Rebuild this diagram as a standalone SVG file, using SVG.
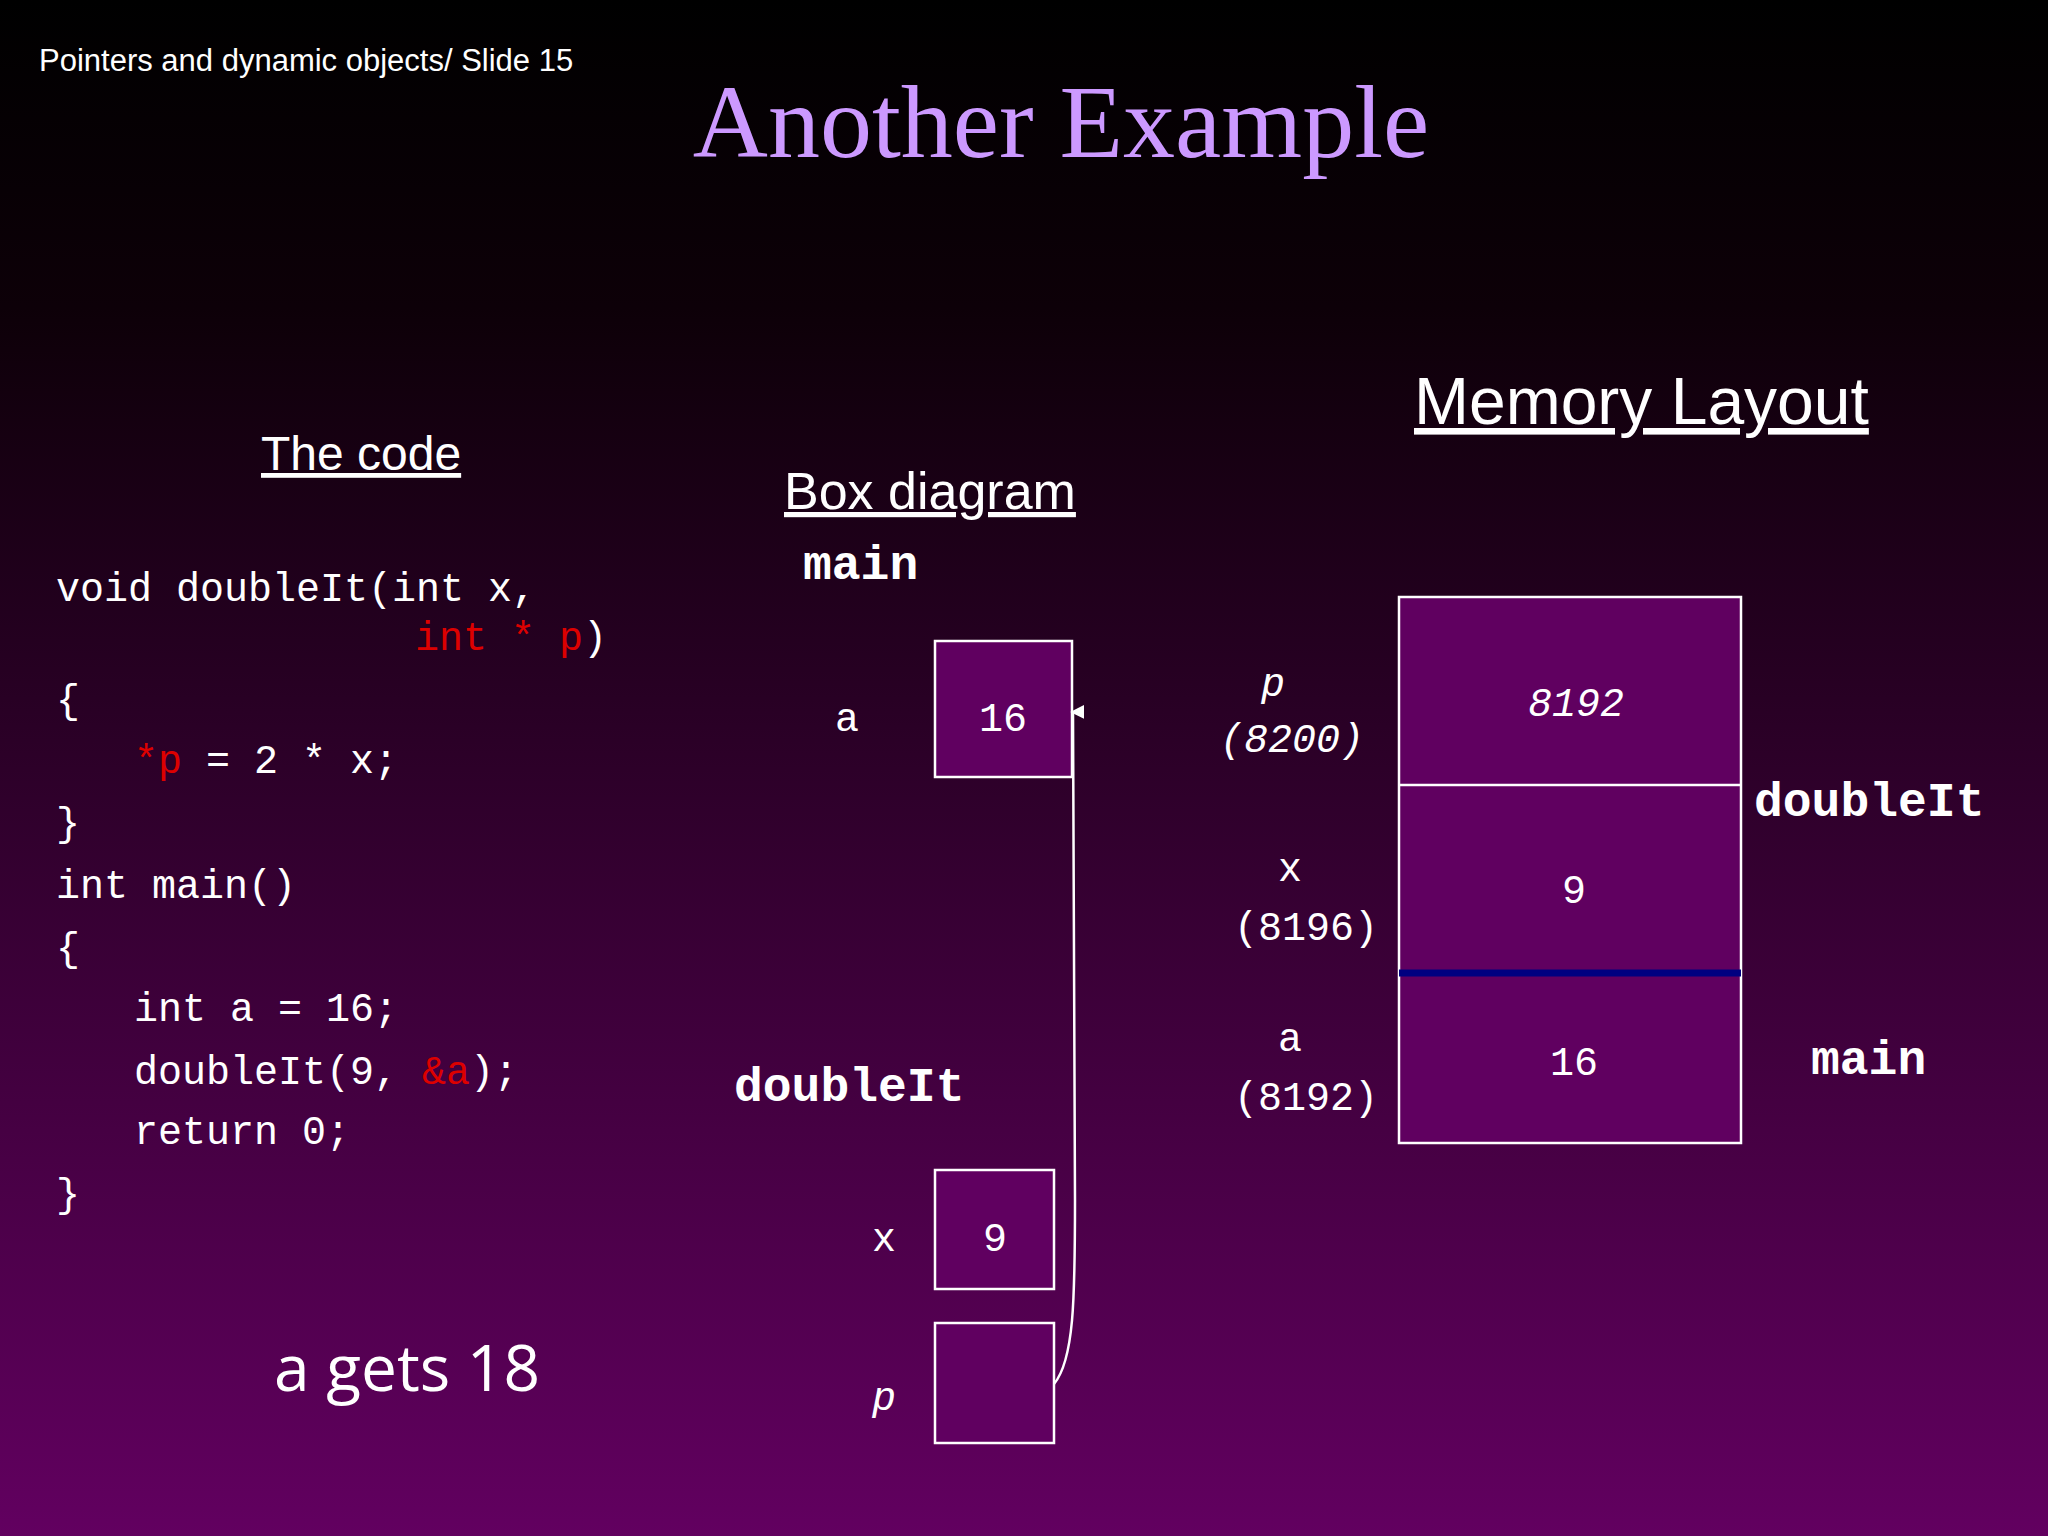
<svg xmlns="http://www.w3.org/2000/svg" width="2048" height="1536" viewBox="0 0 2048 1536">
<defs>
<linearGradient id="bg" x1="0" y1="0" x2="0" y2="1">
<stop offset="0" stop-color="#000000"/><stop offset="0.2" stop-color="#0d0008"/><stop offset="1" stop-color="#620060"/>
</linearGradient>
<marker id="ah" viewBox="0 0 10 10" refX="5" refY="2" markerWidth="14" markerHeight="14" markerUnits="userSpaceOnUse" orient="auto-start-reverse"><path d="M0,10 L5,0 L10,10 z" fill="#fff"/></marker>
<style>
.m{font-family:"Liberation Mono",monospace;fill:#fff;font-size:40px}
.b{font-family:"Liberation Mono",monospace;fill:#fff;font-size:48px;font-weight:bold}
.r{fill:#dd0000}
.s{font-family:"Liberation Sans",Arial,sans-serif;fill:#fff}
.box{fill:#600060;stroke:#fff;stroke-width:2.5}
.c{text-anchor:middle}
.i{font-style:italic}
</style>
</defs>
<rect width="2048" height="1536" fill="url(#bg)"/>
<text x="39" y="71" class="s" font-size="31">Pointers and dynamic objects/ Slide 15</text>
<text x="1061" y="157" font-family="Liberation Serif,serif" font-size="104" fill="#cc99ff" text-anchor="middle">Another Example</text>
<text x="261" y="470" class="s" font-size="48" text-decoration="underline">The code</text>
<text x="784" y="509" class="s" font-size="52" text-decoration="underline">Box diagram</text>
<text x="1414" y="424" class="s" font-size="66" text-decoration="underline">Memory Layout</text>
<g id="code">
<text class="m" x="56" y="601">void doubleIt(int x,</text>
<text class="m" x="415" y="650"><tspan class="r">int * p</tspan>)</text>
<text class="m" x="56" y="713">{</text>
<text class="m" x="134" y="773"><tspan class="r">*p</tspan> = 2 * x;</text>
<text class="m" x="56" y="836">}</text>
<text class="m" x="56" y="898">int main()</text>
<text class="m" x="56" y="961">{</text>
<text class="m" x="134" y="1021">int a = 16;</text>
<text class="m" x="134" y="1084">doubleIt(9, <tspan class="r">&amp;a</tspan>);</text>
<text class="m" x="134" y="1144">return 0;</text>
<text class="m" x="56" y="1207">}</text>
</g>
<text x="274" y="1391" font-family="Open Sans,sans-serif" font-size="64" fill="#fff">a gets 18</text>
<text class="b" x="803" y="579">main</text>
<text class="b" x="734" y="1101">doubleIt</text>
<g id="boxA"><rect class="box" x="935" y="641" width="137" height="136"/><text class="m c" x="1003" y="731" font-size="50">16</text><text class="m" x="835" y="731" font-size="50">a</text></g>
<g id="boxX"><rect class="box" x="935" y="1170" width="119" height="119"/><text class="m c" x="995" y="1251" font-size="50">9</text><text class="m" x="872" y="1251" font-size="50">x</text></g>
<g id="boxP"><rect class="box" x="935" y="1323" width="119" height="120"/><text class="m i" x="872" y="1410" font-size="50">p</text></g>
<g id="connectors"><path d="M1054,1384 C1074,1360 1075,1300 1075,1200 L1073,712" fill="none" stroke="#fff" stroke-width="2.5" marker-end="url(#ah)"/></g>
<g id="memory">
<rect class="box" x="1399" y="597" width="342" height="546"/>
<line x1="1399" y1="785" x2="1741" y2="785" stroke="#fff" stroke-width="2.5"/>
<line x1="1399" y1="973" x2="1741" y2="973" stroke="#000080" stroke-width="7"/>
<text class="m c i" x="1576" y="716" font-size="50">8192</text>
<text class="m c" x="1574" y="903" font-size="50">9</text>
<text class="m c" x="1574" y="1075" font-size="50">16</text>
<text class="m c i" x="1273" y="696" font-size="46">p</text>
<text class="m c i" x="1292" y="752" font-size="46">(8200)</text>
<text class="m c" x="1290" y="881" font-size="46">x</text>
<text class="m c" x="1306" y="940" font-size="46">(8196)</text>
<text class="m c" x="1290" y="1051" font-size="46">a</text>
<text class="m c" x="1306" y="1110" font-size="46">(8192)</text>
<text class="b" x="1754" y="816">doubleIt</text>
<text class="b" x="1811" y="1074">main</text>
</g>
</svg>
